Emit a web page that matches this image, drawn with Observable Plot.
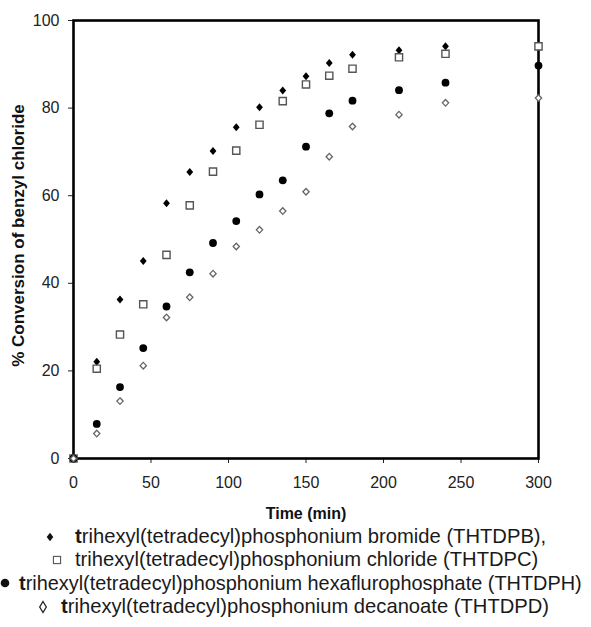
<!DOCTYPE html>
<html>
<head>
<meta charset="utf-8">
<script src="https://cdn.jsdelivr.net/npm/d3@7"></script>
<script src="https://cdn.jsdelivr.net/npm/@observablehq/plot@0.6"></script>
<style>
  html, body { margin: 0; padding: 0; background: white; }
  #wrap { width: 591px; position: relative; overflow: hidden; }
  #legend { font-family: "Liberation Sans", Arial, sans-serif; font-size: 20.2px; color: #1a1a1a; position: relative; height: 102px; }
  .row { position: absolute; white-space: nowrap; height: 23.3px; line-height: 23.3px; }
  .mk { display: inline-block; width: 16px; height: 16px; vertical-align: middle; position: relative; top: -1px; }
</style>
</head>
<body>
<div id="wrap">
  <div id="chart"></div>
  <div id="legend"></div>
</div>
<script>
const time = [0, 15, 30, 45, 60, 75, 90, 105, 120, 135, 150, 165, 180, 210, 240, 300];
const THTDPB = [0, 22.1, 36.3, 45.1, 58.3, 65.4, 70.2, 75.6, 80.2, 84.0, 87.3, 90.3, 92.2, 93.2, 94.1, null];
const THTDPC = [0, 20.5, 28.3, 35.2, 46.5, 57.8, 65.5, 70.3, 76.2, 81.6, 85.4, 87.4, 89.0, 91.6, 92.4, 94.1];
const THTDPH = [0, 7.9, 16.3, 25.2, 34.7, 42.5, 49.2, 54.2, 60.3, 63.5, 71.2, 78.8, 81.7, 84.1, 85.8, 89.7];
const THTDPD = [0, 5.7, 13.1, 21.2, 32.2, 36.8, 42.2, 48.4, 52.2, 56.5, 60.9, 68.9, 75.8, 78.5, 81.2, 82.3];
const xTicks = [0, 50, 100, 150, 200, 250, 300];
const yTicks = [0, 20, 40, 60, 80, 100];
const xLabel = "Time (min)";
const yLabel = "% Conversion of benzyl chloride";
const legendPrefix = "t";
const legendNames = [
  "rihexyl(tetradecyl)phosphonium bromide (THTDPB),",
  "rihexyl(tetradecyl)phosphonium chloride (THTDPC)",
  "rihexyl(tetradecyl)phosphonium hexaflurophosphate (THTDPH)",
  "rihexyl(tetradecyl)phosphonium decanoate (THTDPD)"
];

function rows(vals) {
  return time.map((t, i) => ({t, v: vals[i]})).filter(d => d.v != null);
}

const diamondFill = {draw(ctx, size) { const r = Math.sqrt(size / Math.PI); const h = r, w = r * 0.85;
  ctx.moveTo(0, -h); ctx.lineTo(w, 0); ctx.lineTo(0, h); ctx.lineTo(-w, 0); ctx.closePath(); }};
const diamondOpen = {draw(ctx, size) { const r = Math.sqrt(size / Math.PI); const h = r, w = r * 0.95;
  ctx.moveTo(0, -h); ctx.lineTo(w, 0); ctx.lineTo(0, h); ctx.lineTo(-w, 0); ctx.closePath(); }};
const squareSym = {draw(ctx, size) { const r = Math.sqrt(size / Math.PI);
  ctx.rect(-r, -r, 2 * r, 2 * r); }};

const chart = Plot.plot({
  width: 591,
  height: 525,
  marginTop: 20,
  marginLeft: 73,
  marginRight: 53,
  marginBottom: 67,
  x: {domain: [0, 300]},
  y: {domain: [0, 100]},
  style: {fontFamily: "'Liberation Sans', Arial, sans-serif", fontSize: "16px", color: "#222", background: "white"},
  marks: [
    Plot.axisX({ticks: xTicks, tickSize: 5, tickPadding: 13, label: null, fontSize: 16, stroke: "#222"}),
    Plot.axisY({ticks: yTicks, tickSize: 5, tickPadding: 9, label: null, fontSize: 16, stroke: "#222"}),
    Plot.frame({stroke: "black", strokeWidth: 2.6}),
    Plot.dot(rows(THTDPB), {x: "t", y: "v", symbol: diamondFill, r: 4, fill: "black", stroke: "none"}),
    Plot.dot(rows(THTDPC), {x: "t", y: "v", symbol: squareSym, r: 3.6, fill: "white", stroke: "#555", strokeWidth: 1.4}),
    Plot.dot(rows(THTDPH), {x: "t", y: "v", r: 3.9, fill: "black", stroke: "none"}),
    Plot.dot(rows(THTDPD), {x: "t", y: "v", symbol: diamondOpen, r: 3.3, fill: "white", stroke: "#666", strokeWidth: 1.3}),
    Plot.text([xLabel], {frameAnchor: "bottom", dy: 55, fontWeight: "bold", fontSize: 16, lineAnchor: "middle", fill: "#111"}),
    Plot.text([yLabel], {frameAnchor: "left", rotate: -90, dx: -55, dy: -4, textAnchor: "middle", fontWeight: "bold", fontSize: 17, lineAnchor: "middle", fill: "#111"})
  ]
});
document.getElementById("chart").appendChild(chart);

const markers = [
  '<svg class="mk" viewBox="-8 -8 16 16"><path d="M0,-4.3L3.3,0L0,4.3L-3.3,0Z" fill="#111"/></svg>',
  '<svg class="mk" viewBox="-8 -8 16 16"><rect x="-3.6" y="-3.6" width="7.2" height="7.2" fill="white" stroke="#555" stroke-width="1.1"/></svg>',
  '<svg class="mk" viewBox="-8 -8 16 16"><circle r="4.3" fill="#111"/></svg>',
  '<svg class="mk" viewBox="-8 -8 16 16"><path d="M0,-5.5L3.3,0L0,5.5L-3.3,0Z" fill="white" stroke="#222" stroke-width="1.3"/></svg>'
];
const rowSpec = [
  {left: 42, gap: 17, bold: true, top: 0, size: 20.2},
  {left: 49, gap: 10, bold: false, top: 23.3, size: 20.2},
  {left: -3, gap: 6, bold: true, top: 46.6, size: 19.9},
  {left: 35, gap: 10, bold: true, top: 69.9, size: 20.2}
];
const legend = document.getElementById("legend");
rowSpec.forEach((s, i) => {
  const row = document.createElement("div");
  row.className = "row";
  row.style.left = s.left + "px";
  row.style.top = s.top + "px";
  row.style.fontSize = s.size + "px";
  const first = s.bold ? "<b>" + legendPrefix + "</b>" : legendPrefix;
  row.innerHTML = markers[i] + '<span style="display:inline-block;width:' + s.gap + 'px"></span>' + first + legendNames[i];
  legend.appendChild(row);
});
</script>
</body>
</html>
